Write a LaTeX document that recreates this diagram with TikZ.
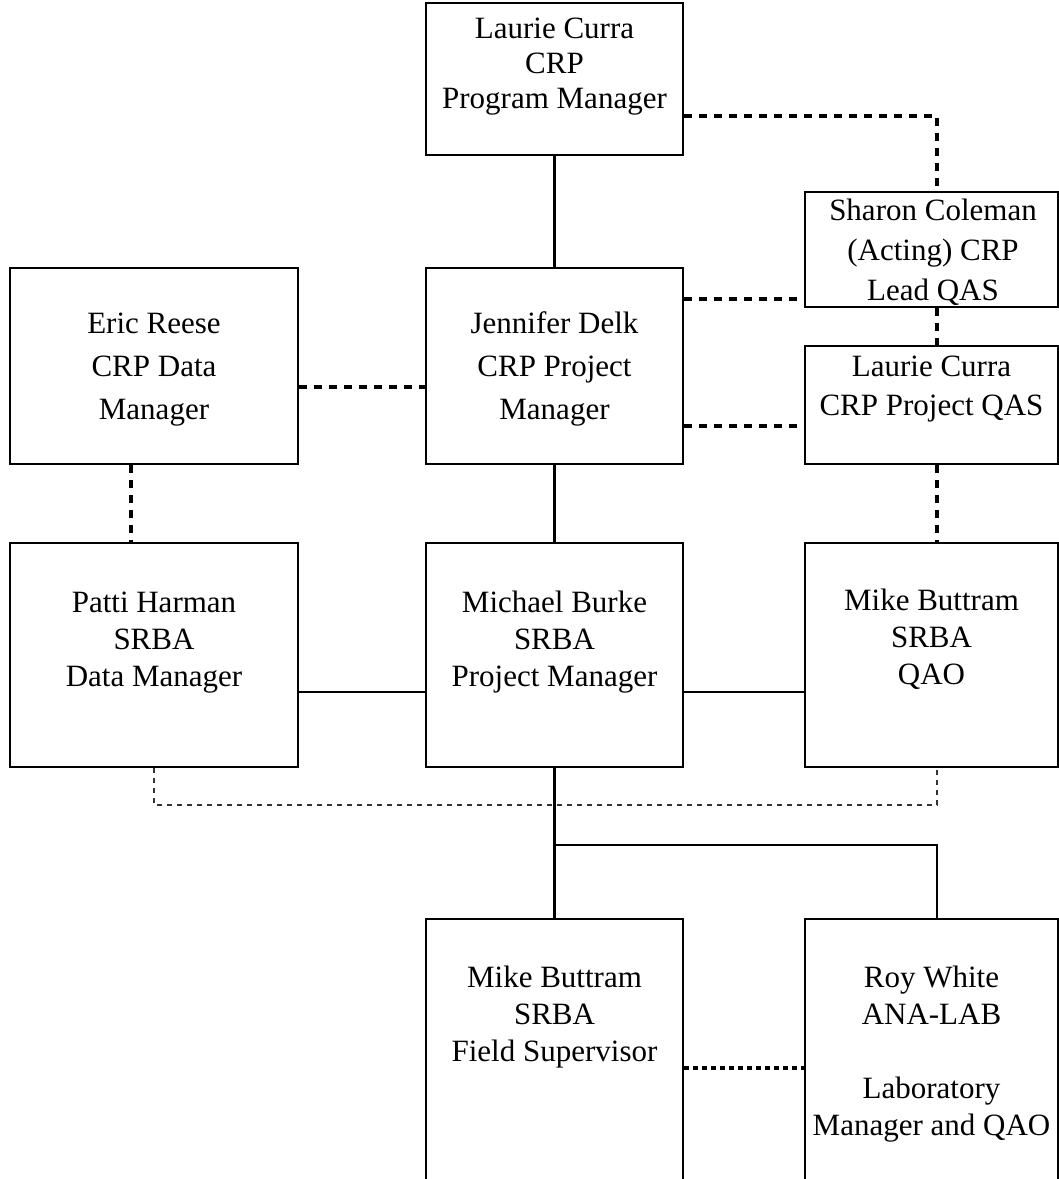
\documentclass[tikz,border=0pt]{standalone}
\usepackage{fontspec}
\setmainfont{Liberation Serif}
\newcommand\fsz[1]{\fontsize{15.5}{#1}\selectfont}
\begin{document}
\begin{tikzpicture}[x=0.5pt,y=-0.5pt,
  box/.style={draw, line width=1.2pt, inner sep=0pt, minimum width=128.5pt},
  wbox/.style={box, minimum width=144pt},
  rbox/.style={box, minimum width=126.5pt},
  txt/.style={inner sep=0pt, align=center},
  sol/.style={line width=1.1pt},
  dsh/.style={line width=1.75pt, dash pattern=on 3.75pt off 3.75pt},
  dotl/.style={line width=1.6pt, dash pattern=on 2.2pt off 2.3pt},
  thin/.style={line width=0.8pt, black!80, dash pattern=on 2.5pt off 2.5pt}]
\clip (0,0) rectangle (1059,1179);
\useasboundingbox (0,0) rectangle (1059,1179);
\fill[white] (0,0) rectangle (1059,1179);
% boxes
\node[box, minimum height=76pt] (pm) at (554.5,79) {};
\node[rbox, minimum height=57.5pt] (sc) at (931.5,249.5) {};
\node[rbox, minimum height=59pt] (qas) at (931.5,405) {};
\node[wbox, minimum height=98pt] (er) at (154,366) {};
\node[box, minimum height=98pt] (jd) at (554.5,366) {};
\node[wbox, minimum height=112pt] (ph) at (154,655) {};
\node[box, minimum height=112pt] (mb) at (554.5,655) {};
\node[rbox, minimum height=112pt] (mq) at (931.5,655) {};
\node[box, minimum height=190.5pt] (fs) at (554.5,1109.5) {};
\node[rbox, minimum height=190.5pt] (rw) at (931.5,1109.5) {};
% texts
\node[txt, font=\fsz{17.5}] (tpm) at (554.5,66.5) {\strut Laurie Curra\\\strut CRP\\\strut Program Manager};
\node[txt, font=\fsz{20}] (tsc) at (933,252.5) {\strut Sharon Coleman\\\strut (Acting) CRP\\\strut Lead QAS};
\node[txt, font=\fsz{19.5}] (tqas) at (931.5,388.5) {\strut Laurie Curra\\\strut CRP Project QAS};
\node[txt, font=\fsz{21.5}] (ter) at (154,367.5) {\strut Eric Reese\\\strut CRP Data\\\strut Manager};
\node[txt, font=\fsz{21.5}] (tjd) at (554.5,367.5) {\strut Jennifer Delk\\\strut CRP Project\\\strut Manager};
\node[txt, font=\fsz{18.5}] (tph) at (154,642) {\strut Patti Harman\\\strut SRBA\\\strut Data Manager};
\node[txt, font=\fsz{18.5}] (tmb) at (554.5,642) {\strut Michael Burke\\\strut SRBA\\\strut Project Manager};
\node[txt, font=\fsz{18.5}] (tmq) at (931.5,640.5) {\strut Mike Buttram\\\strut SRBA\\\strut QAO};
\node[txt, font=\fsz{18.5}] (tfs) at (554.5,1017) {\strut Mike Buttram\\\strut SRBA\\\strut Field Supervisor};
\node[txt, font=\fsz{18.5}] (trw) at (931.5,1054) {\strut Roy White\\\strut ANA-LAB\\\strut\\\strut Laboratory\\\strut Manager and QAO};
% solid connectors
\draw[sol] (pm.south) -- (jd.north);
\draw[sol] (jd.south) -- (mb.north);
\draw[sol] ([yshift=-18.5pt]ph.east) -- ([yshift=-18.5pt]mb.west);
\draw[sol] ([yshift=-18.5pt]mb.east) -- ([yshift=-18.5pt]mq.west);
\draw[sol] (mb.south) -- (fs.north);
\coordinate (br) at ([yshift=-38.5pt]mb.south);
\draw[sol] (br) -| ([xshift=2.75pt]rw.north);
% dashed connectors
\draw[dsh] ([yshift=-18.5pt]pm.east) -| ([xshift=2.75pt]sc.north);
\draw[dsh] ([yshift=33.5pt]jd.east) -- ([yshift=33.5pt]jd.east -| sc.west);
\draw[dsh] ([xshift=2.75pt]sc.south) -- ([xshift=2.75pt]qas.north);
\draw[dsh] ([yshift=-30pt]jd.east) -- ([yshift=-30pt]jd.east -| qas.west);
\draw[dsh] ([yshift=-10.5pt]er.east) -- ([yshift=-10.5pt]jd.west);
\draw[dsh] ([xshift=-11.5pt]er.south) -- ([xshift=-11.5pt]ph.north);
\draw[dsh] ([xshift=2.75pt]qas.south) -- ([xshift=2.75pt]mq.north);
% dotted connectors
\draw[thin] (ph.south) -- ++(0,37) -| ([xshift=2.75pt]mq.south);
\draw[dotl] ([yshift=20.75pt]fs.east) -- ([yshift=20.75pt]rw.west);
\end{tikzpicture}
\end{document}
